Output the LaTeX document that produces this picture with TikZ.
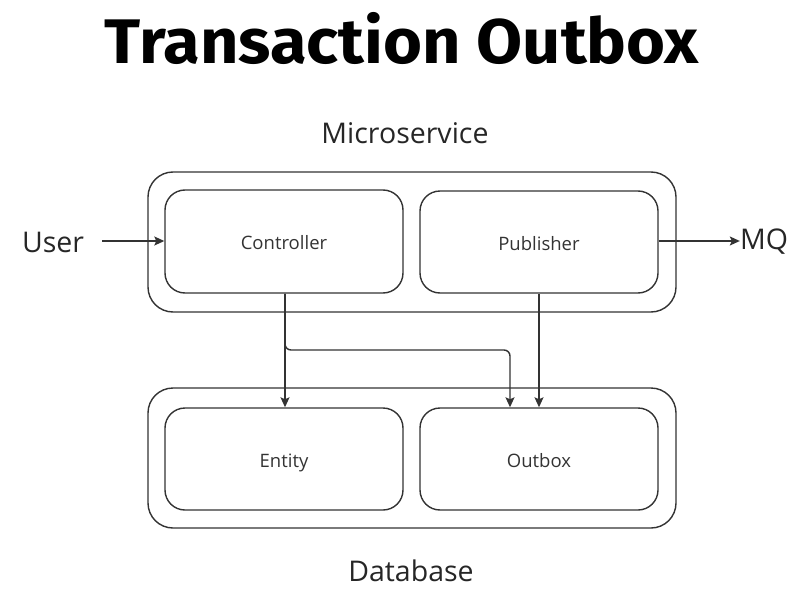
\documentclass[tikz,border=0pt]{standalone}
\usepackage{fontspec}
\setmainfont{Open Sans}
\newfontfamily\titlefont[FakeStretch=1.06]{Fira Sans}
\usetikzlibrary{arrows.meta}
\definecolor{ln}{HTML}{333333}
\tikzset{
  outerbox/.style={draw=ln, line width=1.4pt, rounded corners=25pt},
  innerbox/.style={draw=ln, line width=1.4pt, rounded corners=20pt, font=\fontsize{18.5}{20}\selectfont, text=ln, text height=16pt, text depth=0pt},
  biglabel/.style={font=\fontsize{28.5}{32}\selectfont, text=black!85},
  conn/.style={draw=ln, line width=1.4pt, -{Stealth[length=10pt,width=9pt,inset=2pt]}},
}
\begin{document}
\begin{tikzpicture}[x=1pt,y=-1pt]
\useasboundingbox (0,0) rectangle (804,605);
\node[font=\titlefont\bfseries\fontsize{63}{66}\selectfont] (title) at (402,38) {Transaction Outbox};
\node[biglabel] (ms) at (405,133) {Microservice};
\node[biglabel] (db) at (411,571) {Database};
\node[biglabel] (user) at (53,242) {User};
\node[biglabel, inner sep=0pt] (mq) at (764,242) {MQ};
\draw[outerbox] (148,172) rectangle (676,312);
\draw[outerbox] (148,388) rectangle (676,528);
\node[innerbox, minimum width=238pt, minimum height=103pt] (ctrl) at (284,241.5) {Controller};
\node[innerbox, minimum width=238pt, minimum height=102pt] (pub) at (539,242) {Publisher};
\node[innerbox, minimum width=238pt, minimum height=102pt] (ent) at (284,459) {Entity};
\node[innerbox, minimum width=238pt, minimum height=102pt] (out) at (539,459) {Outbox};
\coordinate (ustart) at (102,241);
\draw[conn] (ustart) -- (ctrl.west |- ustart);
\draw[conn] (pub.east |- 0,241) -- (mq.west |- 0,241);
\draw[conn] (ctrl.south -| 285,0) -- (ent.north -| 285,0);
\draw[conn] (pub.south) -- (out.north);
\draw[conn, rounded corners=6pt] (ctrl.south -| 285,0) -- (285,350) -- (510,350) -- (out.north -| 510,0);
\end{tikzpicture}
\end{document}
